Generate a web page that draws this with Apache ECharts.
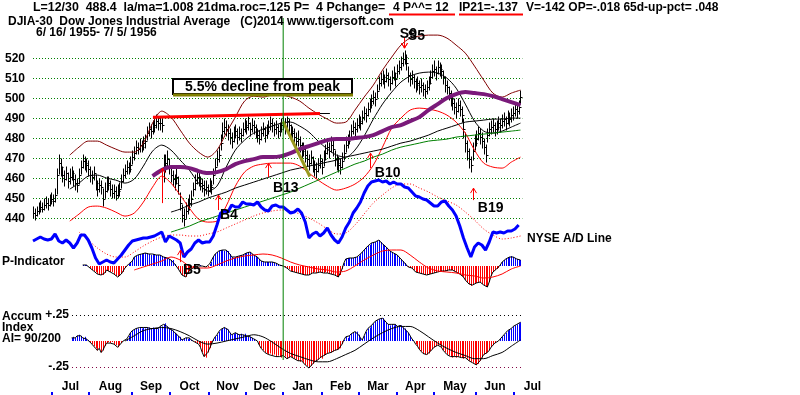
<!DOCTYPE html>
<html><head><meta charset="utf-8">
<script src="https://cdn.jsdelivr.net/npm/echarts@6/dist/echarts.min.js"></script>
<style>html,body{margin:0;padding:0;background:#fff}#c{width:800px;height:395px}</style>
</head><body><div id="c"></div>
<script>
// ---------- DATA ----------
// daily bars, trading-day index 0 = 6/16/1955
const dayClose = [443,442,444,445,446,445,447,448,447,449,
450,449,452,462,468,466,462,460,463,459,
461,463,460,458,457,462,466,469,468,467,
465,462,461,463,458,455,457,456,450,454,
457,458,455,453,454,452,454,455,459,462,
464,466,465,467,471,473,476,475,477,476,
478,479,483,485,484,486,487,489,488,488,
487,467,468,470,466,462,460,458,461,457,
448,442,440,444,446,448,450,455,458,461,
460,458,457,455,456,454,457,456,462,466,
470,472,478,484,486,485,483,481,479,482,
484,481,483,482,485,487,486,488,485,487,
486,484,482,480,483,485,482,484,486,488,
487,485,486,484,485,487,488,486,489,487,
484,483,481,479,480,477,474,475,472,470,
468,471,467,465,464,467,469,466,470,473,
476,474,477,475,470,468,467,466,469,473,
477,479,481,484,486,485,487,489,488,491,
493,492,495,497,499,501,500,504,508,510,
511,509,512,510,508,511,513,510,514,516,
518,520,521,518,512,510,511,509,507,508,
506,507,505,504,506,508,511,514,515,513,
516,515,514,511,507,506,503,500,498,496,
494,497,495,492,485,478,474,470,467,474,
478,480,483,481,479,476,472,482,485,486,
487,485,486,488,487,489,490,488,491,490,
492,493,495,494,496,501];
const dayHigh = [446,445,446,448,449,448,450,451,450,452,
453,452,455,465,472,470,466,464,466,463,
465,466,464,462,460,465,469,472,471,470,
469,466,464,466,462,459,460,459,455,458,
461,461,459,457,457,456,457,458,462,465,
467,469,468,471,474,476,479,478,480,479,
481,482,486,488,487,489,490,492,491,491,
490,472,472,474,470,466,464,462,465,461,
453,447,445,448,450,452,454,458,462,464,
464,461,460,459,459,457,460,459,465,470,
474,476,482,488,490,489,487,485,483,486,
487,485,486,485,488,490,489,491,488,490,
489,487,485,484,486,488,486,487,489,491,
490,488,489,487,488,490,491,490,491,490,
487,486,485,483,484,481,478,478,476,474,
472,474,471,469,468,470,472,470,474,477,
480,478,481,479,474,472,471,470,473,477,
481,482,484,487,489,488,490,492,491,494,
496,495,498,500,502,504,503,507,511,513,
514,512,515,513,511,514,516,513,517,519,
521,523,524,522,516,513,514,512,510,511,
509,510,508,507,509,511,514,517,519,516,
519,518,517,514,511,509,506,504,501,500,
498,500,499,496,490,483,479,475,471,478,
482,484,486,485,483,480,477,485,488,489,
490,488,489,491,490,492,493,491,494,493,
495,496,498,497,499,504];
const dayLow = [440,439,441,442,443,443,444,445,444,446,
447,446,448,452,462,461,458,456,459,455,
457,459,456,454,453,457,462,465,464,463,
461,458,457,459,454,451,453,452,446,450,
453,454,451,450,450,449,450,451,455,458,
460,462,462,463,467,469,472,472,473,473,
474,475,479,481,480,482,483,485,484,484,
483,458,463,466,462,458,456,454,457,452,
444,438,436,440,442,444,446,451,454,457,
456,454,453,451,452,451,453,452,457,462,
466,468,474,480,482,481,479,477,475,478,
480,477,479,478,481,483,482,484,481,483,
482,480,478,477,479,481,478,480,482,484,
483,481,482,480,481,483,484,482,485,483,
480,479,477,475,476,473,470,471,468,466,
464,467,463,461,460,463,465,462,466,469,
472,470,473,471,466,464,463,462,465,469,
473,475,477,480,482,481,483,485,484,487,
489,488,491,493,495,497,496,500,504,506,
507,505,508,506,504,507,509,506,510,512,
514,516,517,514,508,506,507,505,503,504,
502,503,501,500,502,504,507,510,511,509,
512,511,510,507,503,502,499,496,494,492,
490,493,491,488,480,473,469,465,463,469,
474,476,479,477,475,472,468,478,481,482,
483,481,482,484,483,485,486,484,487,486,
488,489,491,490,492,497];

// curves sampled every 5 trading days (index = 5*k)
const bandUpper = [null,null,null,null,471.7,475.7,478.7,478.7,476.7,474.7,
473.2,473.2,477.7,487.7,493.7,490.7,484.2,477.7,473.2,470.7,
474.2,482.7,490.7,498.7,501.2,500.7,501.7,501.7,500.7,498.7,
495.2,492.2,489.7,487.7,488.2,494.2,500.7,506.7,514.2,520.7,
526.7,530.2,531.2,531.7,531.7,530.2,526.7,522.7,516.2,509.2,
502.7,500.7,502.7,504.2];
const bandLower = [null,null,null,null,438.7,442.2,445.7,446.2,445.2,443.2,
441.2,442.7,448.2,455.7,461.2,457.7,451.7,445.2,439.7,438.2,
438.7,446.2,456.2,463.2,466.2,467.2,467.7,467.7,467.7,466.2,
462.7,459.2,456.2,454.2,455.2,457.2,460.7,466.7,475.7,485.2,
490.2,494.2,495.2,494.7,493.7,491.7,488.2,482.7,474.2,467.7,
465.7,465.2,468.2,470.7];
const ma21 = [null,null,null,null,454.7,457.7,461.2,461.7,460.2,459.2,
457.7,459.7,466.2,473.7,476.7,474.2,469.2,464.2,457.7,453.7,
456.2,465.7,474.2,479.2,482.7,484.7,486.2,487.7,488.2,486.2,
483.2,478.7,474.7,471.7,470.7,474.2,481.2,489.7,497.2,503.2,
508.2,511.2,512.7,513.2,512.7,510.2,505.2,497.2,488.7,483.7,
482.7,483.7,485.7,487.7];
const maPurple = [null,null,null,null,null,null,null,null,null,null,
null,null,null,461.2,464.2,465.7,465.7,465.2,463.7,462.7,
463.2,464.7,467.2,468.7,469.7,470.7,470.7,471.2,472.7,474.7,
476.2,477.7,479.2,479.7,479.7,480.2,480.7,481.7,483.7,485.7,
486.7,488.7,490.7,494.2,497.2,500.2,502.2,503.2,502.7,502.2,
501.2,499.7,498.2,496.7];
const maLong = [null,null,null,null,null,null,null,null,null,null,
null,null,null,null,null,443.2,444.7,446.7,448.2,450.2,
451.7,453.2,455.2,456.7,458.2,459.7,461.2,462.7,464.2,465.2,
466.2,467.2,468.2,469.2,470.7,471.7,472.7,473.7,474.7,476.2,
477.7,478.7,480.2,481.7,483.7,485.2,486.7,488.2,488.7,489.2,
489.7,489.7,490.2,490.2];
const maGreen = [null,null,null,null,null,null,null,null,null,null,
null,null,null,null,null,433.2,434.7,436.2,438.2,439.7,
441.2,442.7,444.2,445.7,447.2,448.7,450.2,451.7,453.2,455.2,
457.2,459.2,461.2,463.2,465.2,467.2,468.7,470.7,472.2,474.2,
475.7,476.7,477.7,478.7,479.2,479.7,480.7,481.2,481.7,482.2,
482.7,483.2,483.7,484.2];

// NYSE A/D line (every 2 trading days, arbitrary units) and its MA (every 5 days)
const adLine = [29,31,33,31,30,31,36,29,27,30,
27,22,27,35,35,30,22,12,6,8,
10,8,7,11,15,20,25,29,30,31,
32,32,33,34,36,38,28,34,32,30,
27,13,18,21,27,30,27,28,28,34,
45,57,59,58,65,63,63,68,66,66,
65,68,63,60,59,64,65,63,63,60,
57,58,61,57,48,32,36,38,34,37,
42,35,30,27,33,42,48,57,62,68,
77,84,88,89,90,88,89,86,88,86,
86,83,82,78,74,73,71,70,67,64,
64,68,69,64,60,54,44,32,22,13,
23,27,25,20,28,38,37,38,37,39,
39,41,45];
const adMA = [null,null,null,null,null,38,30,22,16,13,
13,18,24,29,33,35,35,34,34,36,
38,42,46,50,54,57,59,60,59,56,
52,47,41,36,37,45,56,67,75,82,
86,86,82,78,73,69,65,58,50,41,
35,31,32,34];

// P-Indicator (daily, starting at day P_START) and its MA (every 5 days)
const P_START = 27;
const pInd = [1,1,1,0,-2,-4,-5,-6,-8,-9,
-9,-9,-7,-4,-5,-6,-6,-8,-10,-11,
-9,-8,-6,-2,0,2,3,5,9,10,
11,12,12,13,13,13,12,11,12,12,
11,11,11,10,9,8,8,7,6,6,
2,0,-3,-6,-9,-10,-11,-7,-5,-3,
-2,-1,-1,0,1,0,-1,-1,-1,2,
4,9,12,14,15,16,16,15,16,15,
12,9,8,9,10,10,11,11,12,13,
14,14,12,11,10,9,7,5,4,4,
4,4,4,4,3,3,2,1,1,0,
-1,-2,-3,-5,-6,-6,-7,-7,-8,-8,
-9,-9,-9,-9,-8,-7,-6,-7,-6,-6,
-7,-7,-6,-7,-7,-8,-8,-9,-10,-11,
-9,-3,3,7,8,8,8,8,9,9,
10,12,14,16,18,20,21,23,24,24,
25,26,24,22,21,19,17,15,14,13,
12,11,9,7,5,3,1,-1,-2,-2,
-4,-6,-6,-7,-8,-8,-9,-9,-8,-8,
-7,-7,-6,-6,-6,-5,-6,-5,-5,-4,
-4,-4,-5,-6,-7,-8,-10,-11,-14,-16,
-18,-20,-19,-17,-17,-16,-16,-18,-19,-20,
-21,-16,-10,-6,-4,-3,-2,1,4,6,
7,8,9,10,9,8,7,6,6];
const pMA = [null,null,null,null,null,null,null,null,null,null,
null,-4,-1,2,5,9,6,0,-2,-2,
1,5,8,10,11,12,11,8,4,1,
-1,-3,-4,-6,-5,0,6,11,15,16,
16,11,4,-2,-5,-6,-7,-9,-10,-12,
-11,-8,-3,0];

// Accumulation Index in hundredths (daily from AI_START) and its MA (every 5 days)
const AI_START = 21;
const accum = [3,4,3,5,6,5,3,4,2,1,
-1,-3,-5,-7,-9,-7,-11,-9,-5,-2,
-1,-2,-1,-3,-4,-6,-4,-2,0,0,
2,5,8,10,11,12,12,13,12,13,
12,13,13,12,13,12,12,12,14,14,
16,17,14,12,11,10,8,7,5,4,
1,2,3,2,3,1,0,-1,-2,-3,
-6,-11,-15,-16,-11,-7,-3,1,4,6,
9,11,12,13,12,11,8,6,7,8,
7,6,7,6,7,5,4,4,3,2,
1,0,-4,-7,-9,-11,-12,-13,-12,-14,
-13,-15,-14,-15,-16,-14,-15,-17,-16,-15,
-16,-17,-18,-19,-20,-19,-21,-23,-24,-26,
-24,-22,-20,-19,-18,-16,-17,-14,-13,-12,
-11,-11,-10,-9,-8,-8,-7,-3,1,4,
3,5,7,8,9,9,6,3,1,5,
9,12,13,15,17,19,20,21,22,22,
20,18,16,15,16,15,16,14,15,15,
13,12,10,8,5,2,0,-3,-5,-8,
-10,-12,-13,-13,-12,-10,-8,-6,-5,-4,
-4,-6,-9,-11,-13,-14,-15,-16,-15,-16,
-15,-16,-16,-17,-16,-17,-19,-20,-21,-22,
-23,-22,-19,-16,-13,-12,-11,-9,-6,-4,
-2,-1,0,2,4,6,8,10,11,12,
14,15,16,17,18];
const accumMA = [null,null,null,null,null,null,null,null,null,null,
0,5,10,12,13,12,9,5,0,-3,
-2,0,2,4,6,4,-1,-7,-12,-15,
-18,-20,-20,-17,-13,-9,-3,3,8,12,
14,14,10,4,-2,-7,-11,-14,-17,-17,
-14,-11,-5,1];

// trend lines [dayIndex, price]
const resistLine = [[65.2,490.6],[156,492.5]];
const resistExt = [[156,492.5],[161.4,492.5]];
const declineLine = [[135.9,488.5],[150.5,461]];
const lastDay = 136;               // 12/30/1955 marker
const markerSpan = [540.25,369.25]; // vertical extent in price units

// signals: day index, arrow tail price, arrow head price, label
const sigIdx   = [70.1, 100.5, 127.7, 183.1, 239.1, 201.6, 201.6, 79.9];
const sigFrom  = [447.7, 444.2, 460.7, 465.2, 449.2, 530.2, 530.2, 418.2];
const sigTo    = [465.2, 451.7, 467.7, 472.7, 455.2, 525.2, 525.2, 424.2];
const sigText  = ['', 'B4', 'B13', 'B10', 'B19', 'S9', 'S5', 'B5'];

// axis ticks
const priceTicks = [440, 520, 10];
const monthTicks = [10.3,30.4,53.8,74.5,95.7,115.8,135.9,157.1,177.2,197.8,217.9,240.8,261.4];
const monthLabelAt = [20.4,42.1,64.2,85.1,105.8,125.9,146.5,167.2,187.5,207.9,229.4,251.1,271.5];
const monthNames = ['Jul','Aug','Sep','Oct','Nov','Dec','Jan','Feb','Mar','Apr','May','Jun','Jul'];

// ---------- CHART ----------
const FF = '"Liberation Sans", Arial, sans-serif';
const S = 1.8396; // px per trading day
function gridBox(min, max, top, height){ return {left: 33 + S*min, width: S*(max-min), top: top, height: height}; }
const xr = [[0,266],[0,266],[0,266],[21.2,266],[0,280]];
const grids = [
  gridBox(0,266,58.5,160),
  gridBox(0,266,170,100),
  gridBox(0,266,236,60),
  gridBox(21.2,266,315,52),
  gridBox(0,280,368,24)
];
const xAxes = xr.map((r,g)=>({type:'value', gridIndex:g, min:r[0], max:r[1], show:false}));
xAxes[4] = {type:'value', gridIndex:4, min:0, max:280, position:'top',
  axisLine:{show:false}, splitLine:{show:false},
  axisTick:{show:true, inside:true, length:24, customValues:monthTicks, lineStyle:{color:'#0000ff', width:2}},
  axisLabel:{show:true, inside:true, margin:13, customValues:monthLabelAt, color:'#000', fontWeight:'bold', fontSize:12, fontFamily:FF,
    formatter:(v)=>{ for(let i=0;i<monthLabelAt.length;i++){ if(Math.abs(monthLabelAt[i]-v)<0.01) return monthNames[i]; } return ''; }}
};
const yAxes = [
  {type:'value', gridIndex:0, min:priceTicks[0], max:priceTicks[1], interval:priceTicks[2],
    axisLine:{show:false}, axisTick:{show:false},
    axisLabel:{color:'#000', fontWeight:'bold', fontSize:12, fontFamily:FF, margin:8},
    splitLine:{show:true, lineStyle:{color:'#008000', type:[1,2], width:1}}},
  {type:'value', gridIndex:1, min:0, max:100, show:false},
  {type:'value', gridIndex:2, min:-30, max:30, show:false},
  {type:'value', gridIndex:3, min:-25, max:25, interval:50,
    axisLine:{show:false}, axisTick:{show:false},
    axisLabel:{color:'#000', fontWeight:'bold', fontSize:12, fontFamily:FF, margin:3, formatter:(v)=> v>0 ? '+.25' : '-.25'},
    splitLine:{show:true, lineStyle:{color:['#800040','#000000'], type:[1,3], width:1}}},
  {type:'value', gridIndex:4, min:0, max:1, show:false}
];

const every5 = (arr)=>arr.map((v,k)=>[k*5, v]);
function lineS(name, data, g, color, width, extra){
  return Object.assign({name, type:'line', xAxisIndex:g, yAxisIndex:g, data, showSymbol:false, symbol:'none',
    clip:false, smooth:0.3, connectNulls:false, lineStyle:{color, width}, z:3, silent:true}, extra||{});
}
function histItem(params, api){
  const x = api.value(0), v = api.value(1);
  const p0 = api.coord([x, 0]), p1 = api.coord([x, v]);
  const xx = Math.round(p0[0]) + 0.5;
  return {type:'line', shape:{x1:xx, y1:p0[1], x2:xx, y2:p1[1]}, style:{stroke: v>=0 ? '#0000ff' : '#ff0000', lineWidth:1}};
}
const labelOffset = {B4:[2,-2], B13:[5,4], B10:[5,-2], B19:[5,1], S9:[-4,-11], S5:[4,-9], B5:[3,1]};
function sigItem(params, api){
  const i = params.dataIndex;
  const a = api.coord([api.value(0), api.value(1)]);
  const b = api.coord([api.value(0), api.value(2)]);
  const dir = b[1] < a[1] ? 1 : -1;
  const xx = Math.round(a[0]) + 0.5;
  const ch = [
    {type:'line', shape:{x1:xx, y1:a[1], x2:xx, y2:b[1]}, style:{stroke:'#ff0000', lineWidth:1}},
    {type:'polyline', shape:{points:[[xx-3, b[1]+5*dir],[xx, b[1]],[xx+3, b[1]+5*dir]]}, style:{stroke:'#ff0000', fill:null, lineWidth:1}}
  ];
  const t = sigText[i];
  if (t) {
    const o = labelOffset[t];
    ch.push({type:'text', x:a[0]+o[0], y:a[1]+o[1], style:{text:t, fill:'#000', font:'bold 14px '+FF, align:'left', verticalAlign:'top'}});
  }
  return {type:'group', children:ch};
}

const series = [
  {name:'bars', type:'custom', xAxisIndex:0, yAxisIndex:0, z:2, silent:true,
    data: dayClose.map((c,i)=>[i, dayHigh[i], dayLow[i], c]),
    renderItem:(params, api)=>{
      const h = api.coord([api.value(0), api.value(1)]);
      const l = api.coord([api.value(0), api.value(2)]);
      const c = api.coord([api.value(0), api.value(3)]);
      const xx = Math.round(h[0]) + 0.5;
      const cy = Math.round(c[1]) + 0.5;
      return {type:'group', children:[
        {type:'line', shape:{x1:xx, y1:h[1], x2:xx, y2:l[1]}, style:{stroke:'#000', lineWidth:1}},
        {type:'line', shape:{x1:xx, y1:cy, x2:xx+2, y2:cy}, style:{stroke:'#000', lineWidth:1}}
      ]};
    }},
  lineS('upper band', every5(bandUpper), 0, '#800000', 1),
  lineS('lower band', every5(bandLower), 0, '#ff0000', 1),
  lineS('21-day ma', every5(ma21), 0, '#000000', 1),
  lineS('long ma', every5(maLong), 0, '#000000', 1),
  lineS('green ma', every5(maGreen), 0, '#008000', 1),
  lineS('purple ma', every5(maPurple), 0, '#7a1a7a', 4, {z:4}),
  lineS('resistance', resistLine, 0, '#ff0000', 3, {smooth:false, z:5}),
  lineS('resistance ext', resistExt, 0, '#000000', 1, {smooth:false, z:5}),
  lineS('decline', declineLine, 0, '#9a9a20', 3, {smooth:false, z:5}),
  lineS('date marker', [[lastDay, markerSpan[0]],[lastDay, markerSpan[1]]], 0, '#008000', 1, {smooth:false, z:6}),
  lineS('A/D ma', every5(adMA), 1, '#ff0000', 1, {lineStyle:{color:'#ff0000', width:1, type:[1,2]}}),
  lineS('A/D line', adLine.map((v,j)=>[2*j, v]), 1, '#0000ff', 3, {smooth:false, z:5}),
  {name:'P hist', type:'custom', xAxisIndex:2, yAxisIndex:2, z:2, silent:true, renderItem:histItem,
    data: pInd.map((v,n)=>[n+P_START, v])},
  lineS('P edge', pInd.map((v,n)=>[n+P_START, v]), 2, '#000000', 1, {smooth:false}),
  lineS('P ma', every5(pMA), 2, '#ff0000', 1),
  {name:'AI hist', type:'custom', xAxisIndex:3, yAxisIndex:3, z:2, silent:true, renderItem:histItem,
    data: accum.map((v,n)=>[n+AI_START, v])},
  lineS('AI edge', accum.map((v,n)=>[n+AI_START, v]), 3, '#000000', 1, {smooth:false}),
  lineS('AI ma', every5(accumMA), 3, '#000000', 1),
  {name:'signals', type:'custom', xAxisIndex:0, yAxisIndex:0, z:7, silent:true, renderItem:sigItem,
    data: sigIdx.map((x,i)=>[x, sigFrom[i], sigTo[i]])}
];

const txt = (x, y, s, size)=>({type:'text', x, y, z:100, style:{text:s, fill:'#000', font:'bold '+(size||12)+'px '+FF, verticalAlign:'middle', align:'left'}});
const graphic = [
  txt(33, 8, 'L=12/30  488.4  la/ma=1.008 21dma.roc=.125 P=  4 Pchange=', 12.4),
  txt(393, 8, '4 P^^= 12'),
  txt(459, 8, 'IP21=-.137'),
  txt(526, 8, 'V=-142 OP=-.018 65d-up-pct= .048'),
  {type:'line', z:100, shape:{x1:389, y1:14.5, x2:455, y2:14.5}, style:{stroke:'#ff0000', lineWidth:2}},
  {type:'line', z:100, shape:{x1:459, y1:14.5, x2:523, y2:14.5}, style:{stroke:'#ff0000', lineWidth:2}},
  txt(8, 21.5, 'DJIA-30  Dow Jones Industrial Average   (C)2014 www.tigersoft.com'),
  txt(36, 33, '6/ 16/ 1955- 7/ 5/ 1956'),
  {type:'rect', z:99, shape:{x:173, y:79, width:179, height:15}, style:{fill:'#fff', stroke:'#000', lineWidth:2}},
  {type:'line', z:100, shape:{x1:173, y1:95, x2:353, y2:95}, style:{stroke:'#808000', lineWidth:3}},
  {type:'text', x:262.5, y:87, z:100, style:{text:'5.5% decline from peak', fill:'#000', font:'bold 14px '+FF, verticalAlign:'middle', align:'center'}},
  txt(527, 238.5, 'NYSE A/D Line'),
  txt(2, 262, 'P-Indicator'),
  txt(2, 316.5, 'Accum'),
  txt(2, 327.5, 'Index'),
  txt(2, 339, 'AI= 90/200')
];

const chart = echarts.init(document.getElementById('c'), null, {renderer:'canvas'});
chart.setOption({
  animation:false, backgroundColor:'#ffffff',
  grid: grids, xAxis: xAxes, yAxis: yAxes, series: series, graphic: graphic
});
</script></body></html>
